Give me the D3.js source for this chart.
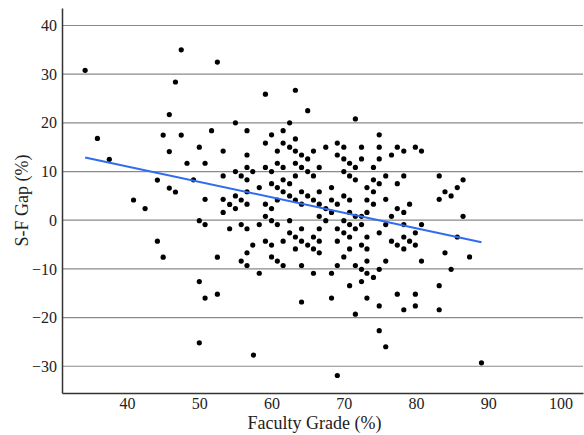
<!DOCTYPE html>
<html>
<head>
<meta charset="utf-8">
<script src="https://cdn.jsdelivr.net/npm/d3@7"></script>
<style>
  body { margin: 0; background: #fff; }
  svg text { font-family: "Liberation Serif", "Times New Roman", serif; fill: #222; }
</style>
</head>
<body>
<svg id="chart"></svg>
<script>
// faculty grade (%) and student-faculty gap (%) per course
const facultyGrade = [
  34.2, 47.5, 46.7, 45.85, 35.9, 45.0, 47.5, 45.85, 48.3, 37.55, 44.2, 45.85, 46.7, 40.9, 42.5, 44.2, 45.0,
  52.5, 55.0, 51.7, 50.0, 53.3, 50.8, 55.0, 53.3, 49.2, 55.8, 55.0, 50.8, 53.3, 54.2, 55.0, 53.3, 50.0, 50.8,
  54.2, 55.8, 52.5, 55.8, 50.0, 50.8, 52.5, 50.0,
  59.15, 63.3, 65.0, 71.6, 62.5, 56.6, 61.6, 60.0, 59.15, 61.6, 63.3, 62.5, 60.8, 63.3, 64.15, 65.0, 65.8,
  67.5, 69.1, 70.0, 69.1, 70.0, 70.8, 72.45, 72.45, 71.6, 56.6, 56.6, 57.4, 59.15, 60.0, 60.8, 61.6, 63.3,
  64.15, 65.0, 66.6, 70.0, 70.8, 71.6, 56.6, 58.3, 60.0, 60.8, 61.6, 62.5, 63.3, 61.6, 62.5, 64.15, 65.8,
  66.6, 68.3, 70.0, 56.6,
  56.6, 55.8, 59.15, 60.0, 59.15, 60.0, 60.8, 60.8, 63.3, 64.15, 65.0, 65.8, 66.6, 67.5, 68.3, 69.1, 70.8,
  70.8, 71.6, 72.45, 66.6, 67.5, 68.3, 70.0, 62.5, 58.3, 56.6, 56.6, 57.4, 56.6, 58.3, 59.15, 60.0, 60.0,
  60.8, 61.6, 61.6, 62.5, 63.3, 64.15, 64.15, 63.3, 65.0, 65.8, 65.8, 66.6, 66.6, 66.6, 64.15, 65.8, 68.3,
  69.1, 69.1, 69.1, 70.0, 70.8, 70.8, 71.6, 72.45, 72.45, 70.8, 70.0, 71.6, 72.45, 72.45, 70.8, 68.3, 64.15,
  71.6, 57.5, 69.1,
  74.9, 74.9, 77.4, 78.3, 79.9, 80.75, 76.6, 74.9, 74.1, 75.8, 78.3, 74.1, 74.9, 77.4, 73.2, 74.1, 83.2,
  86.5, 85.7, 84.0, 84.85,
  73.2, 74.1, 73.2, 75.8, 77.4, 78.3, 79.1, 76.6, 75.8, 78.3, 80.75, 74.9, 79.9, 73.2, 76.6, 78.3, 79.1,
  77.4, 79.9, 78.3, 73.2, 73.2, 75.8, 80.75, 74.9, 73.2, 74.1, 73.2, 74.9, 77.4, 79.9, 78.3, 79.9, 83.2,
  83.2, 84.85, 84.0, 87.4, 85.7, 86.5, 83.2, 74.9, 75.8, 89.05
];
const sfGap = [
  30.8, 35.0, 28.4, 21.7, 16.8, 17.5, 17.5, 14.1, 11.7, 12.5, 8.25, 6.6, 5.8, 4.15, 2.4, -4.3, -7.6,
  32.5, 20.0, 18.4, 15.0, 14.2, 11.7, 10.0, 9.1, 8.3, 9.1, 5.0, 4.3, 4.3, 3.25, 2.4, 1.6, -0.1, -0.9,
  -1.75, -0.9, -7.6, -8.4, -12.6, -16.0, -15.2, -25.2,
  25.9, 26.7, 22.5, 20.8, 20.0, 18.4, 18.4, 17.55, 15.85, 15.85, 16.7, 15.0, 14.2, 14.2, 13.4, 12.6, 14.2,
  15.0, 15.85, 15.0, 13.4, 12.6, 11.7, 15.0, 12.6, 10.85, 13.4, 10.85, 10.0, 10.85, 10.0, 11.7, 10.85, 11.7,
  10.85, 10.0, 10.85, 10.0, 9.1, 8.3, 8.3, 6.7, 7.5, 6.7, 8.3, 7.5, 9.1, 5.85, 5.0, 5.85, 9.1,
  5.85, 6.7, 5.0, 5.85,
  3.3, 4.15, 3.3, 2.4, 0.8, -0.1, -0.9, 4.15, 4.15, 3.3, 5.0, 4.15, 3.3, 2.4, 4.15, 3.3, 4.15,
  1.6, 0.8, 0.8, 0.8, -0.1, 1.6, -0.1, -0.1, -0.9, -1.75, -6.7, -5.1, -9.3, -10.9, -4.3, -5.1, -7.55,
  -8.4, -9.3, -4.3, -2.6, -3.45, -1.75, -4.3, -5.9, -5.1, -3.45, -5.9, -4.3, -1.75, -6.7, -9.3, -10.9, -10.9,
  -9.3, -4.3, -1.75, -2.6, -3.45, -0.9, -1.75, -0.9, -5.1, -5.9, -7.55, -9.3, -10.1, -12.6, -13.45, -16.0, -16.8,
  -19.3, -27.7, -31.9,
  17.55, 15.0, 15.0, 14.2, 15.0, 14.2, 13.4, 12.6, 10.85, 9.1, 9.1, 8.3, 7.5, 7.5, 6.7, 5.85, 9.1,
  8.3, 6.7, 5.85, 5.0,
  4.15, 3.3, 1.6, 4.3, 2.4, 1.6, 3.3, 0.8, -0.9, -0.9, -0.9, -2.6, -2.6, -3.45, -4.3, -3.45, -4.3,
  -5.1, -5.1, -5.9, -5.9, -8.4, -8.4, -8.4, -10.1, -10.9, -11.75, -16.0, -17.6, -15.2, -15.2, -18.4, -17.6, -18.4,
  -13.45, -10.1, -6.7, -7.55, -3.45, 0.8, 4.3, -22.7, -26.0, -29.3
];
// fitted line: gap = intercept + slope * grade
const fitIntercept = 23.78;
const fitSlope = -0.318;

const xTicks = [40, 50, 60, 70, 80, 90, 100];
const yTicks = [-30, -20, -10, 0, 10, 20, 30, 40];

const points = facultyGrade.map((g, i) => ({ grade: g, gap: sfGap[i] }));

const width = 584;
const height = 435;
const margin = { top: 8, right: 1, bottom: 42, left: 62 };
const serif = '"Liberation Serif", "Times New Roman", serif';

const svg = d3.select("#chart")
  .attr("width", width)
  .attr("height", height);

const x = d3.scaleLinear()
  .domain([31, 103.1])
  .range([margin.left, width - margin.right]);

const y = d3.scaleLinear()
  .domain([-35.5, 43.6])
  .range([height - margin.bottom, margin.top]);

// horizontal grid
svg.append("g")
  .selectAll("line")
  .data(yTicks)
  .enter()
  .append("line")
  .attr("x1", margin.left)
  .attr("x2", width - margin.right)
  .attr("y1", d => y(d))
  .attr("y2", d => y(d))
  .attr("stroke", "#8a8a8a")
  .attr("stroke-width", 1.2);

const yAxis = svg.append("g")
  .attr("transform", `translate(${margin.left},0)`)
  .call(d3.axisLeft(y).tickValues(yTicks).tickSize(0).tickPadding(5))
  .attr("font-family", serif)
  .attr("font-size", 16);
yAxis.select(".domain").attr("stroke", "#333").attr("stroke-width", 1.5);
yAxis.selectAll("text").attr("fill", "#222");

const xAxis = svg.append("g")
  .attr("transform", `translate(0,${height - margin.bottom})`)
  .call(d3.axisBottom(x).tickValues(xTicks).tickSize(0).tickPadding(5))
  .attr("font-family", serif)
  .attr("font-size", 16);
xAxis.select(".domain").attr("stroke", "#333").attr("stroke-width", 1.5);
xAxis.selectAll("text").attr("fill", "#222");

svg.append("text")
  .attr("x", (margin.left + width - margin.right) / 2 - 8)
  .attr("y", height - 6)
  .attr("text-anchor", "middle")
  .attr("font-family", serif)
  .attr("font-size", 18)
  .text("Faculty Grade (%)");

svg.append("text")
  .attr("transform", "rotate(-90)")
  .attr("x", -(margin.top + height - margin.bottom) / 2)
  .attr("y", 28)
  .attr("text-anchor", "middle")
  .attr("font-family", serif)
  .attr("font-size", 18)
  .text("S-F Gap (%)");

svg.append("g")
  .selectAll("circle")
  .data(points)
  .enter()
  .append("circle")
  .attr("cx", d => x(d.grade))
  .attr("cy", d => y(d.gap))
  .attr("r", 2.6)
  .attr("fill", "#000");

const gx = d3.extent(facultyGrade);
svg.append("line")
  .attr("x1", x(gx[0]))
  .attr("y1", y(fitIntercept + fitSlope * gx[0]))
  .attr("x2", x(gx[1]))
  .attr("y2", y(fitIntercept + fitSlope * gx[1]))
  .attr("stroke", "#2f6cf0")
  .attr("stroke-width", 2);
</script>
</body>
</html>
